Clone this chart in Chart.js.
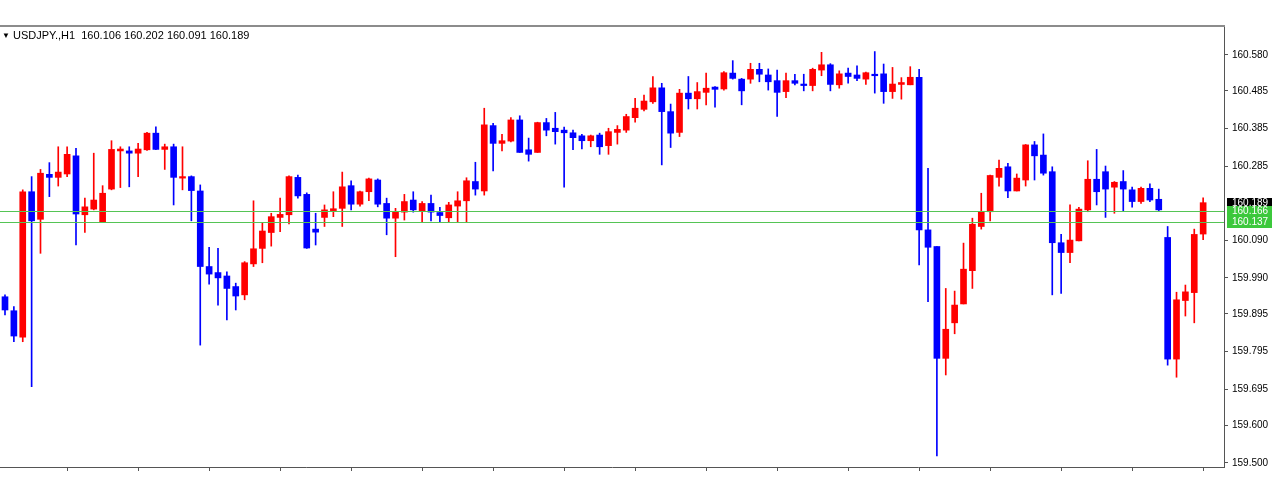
<!DOCTYPE html>
<html>
<head>
<meta charset="utf-8">
<title>USDJPY.,H1</title>
<script src="https://cdn.jsdelivr.net/npm/chart.js@4.4.1/dist/chart.umd.min.js"></script>
<style>
    html, body { margin: 0; padding: 0; background: #fff; }
    #wrap { position: relative; width: 1274px; height: 500px; }
    #hdr { position: absolute; left: 2px; top: 29px; font: 11px "Liberation Sans", Arial, sans-serif; color: #000; white-space: pre; }
    #hdr .tri { font-size: 8px; vertical-align: 1px; }
</style>
</head>
<body>
<div id="wrap">
    <canvas id="chart"></canvas>
    <div id="hdr"><span class="tri">▼</span> USDJPY.,H1  160.106 160.202 160.091 160.189</div>
</div>
<script>
// H1 bars, oldest first
var opens = [159.940, 159.903, 159.833, 160.218, 160.145, 160.264, 160.256, 160.265, 160.313, 160.157,
    160.172, 160.137, 160.225, 160.326, 160.326, 160.320, 160.329, 160.373, 160.330, 160.337,
    160.254, 160.258, 160.220, 160.020, 160.004, 159.995, 159.967, 159.945, 160.027, 160.068,
    160.110, 160.150, 160.157, 160.256, 160.211, 160.119, 160.150, 160.168, 160.174, 160.234,
    160.185, 160.218, 160.249, 160.187, 160.148, 160.164, 160.196, 160.167, 160.187, 160.163,
    160.149, 160.180, 160.194, 160.245, 160.220, 160.393, 160.346, 160.352, 160.408, 160.329,
    160.322, 160.401, 160.386, 160.381, 160.374, 160.366, 160.353, 160.368, 160.340, 160.375,
    160.381, 160.414, 160.436, 160.456, 160.493, 160.430, 160.375, 160.479, 160.464, 160.481,
    160.495, 160.490, 160.532, 160.516, 160.516, 160.542, 160.527, 160.512, 160.483, 160.512,
    160.503, 160.499, 160.540, 160.554, 160.501, 160.532, 160.527, 160.516, 160.529, 160.530,
    160.483, 160.502, 160.501, 160.521, 160.117, 160.073, 159.777, 159.871, 159.921, 160.009,
    160.126, 160.165, 160.256, 160.284, 160.220, 160.249, 160.342, 160.315, 160.271, 160.083,
    160.057, 160.088, 160.170, 160.251, 160.271, 160.230, 160.245, 160.223, 160.192, 160.227,
    160.198, 160.097, 159.775, 159.930, 159.951, 160.106];
var highs = [159.945, 159.914, 160.223, 160.258, 160.277, 160.295, 160.337, 160.337, 160.333, 160.201,
    160.320, 160.234, 160.353, 160.337, 160.337, 160.346, 160.375, 160.390, 160.344, 160.344,
    160.337, 160.260, 160.236, 160.071, 160.068, 160.006, 159.976, 160.033, 160.194, 160.135,
    160.161, 160.201, 160.260, 160.262, 160.215, 160.161, 160.183, 160.218, 160.270, 160.247,
    160.220, 160.254, 160.252, 160.201, 160.174, 160.211, 160.218, 160.192, 160.209, 160.177,
    160.190, 160.218, 160.255, 160.296, 160.439, 160.399, 160.370, 160.414, 160.419, 160.360,
    160.402, 160.412, 160.428, 160.389, 160.381, 160.370, 160.368, 160.373, 160.386, 160.393,
    160.423, 160.465, 160.474, 160.523, 160.505, 160.450, 160.489, 160.523, 160.507, 160.532,
    160.496, 160.536, 160.565, 160.518, 160.558, 160.558, 160.543, 160.540, 160.532, 160.529,
    160.529, 160.545, 160.587, 160.557, 160.538, 160.545, 160.551, 160.535, 160.589, 160.556,
    160.547, 160.520, 160.549, 160.542, 160.280, 160.073, 159.962, 159.955, 160.082, 160.148,
    160.214, 160.262, 160.302, 160.293, 160.265, 160.343, 160.351, 160.371, 160.284, 160.105,
    160.183, 160.177, 160.300, 160.330, 160.286, 160.245, 160.274, 160.230, 160.230, 160.239,
    160.225, 160.126, 159.952, 159.971, 160.119, 160.202];
var lows = [159.892, 159.821, 159.821, 159.702, 160.055, 160.205, 160.233, 160.258, 160.077, 160.110,
    160.170, 160.137, 160.223, 160.229, 160.231, 160.258, 160.327, 160.329, 160.277, 160.183,
    160.223, 160.141, 159.812, 159.973, 159.918, 159.879, 159.905, 159.932, 160.020, 160.030,
    160.074, 160.112, 160.133, 160.201, 160.068, 160.077, 160.126, 160.152, 160.126, 160.170,
    160.180, 160.194, 160.178, 160.104, 160.046, 160.143, 160.164, 160.137, 160.141, 160.139,
    160.137, 160.137, 160.137, 160.209, 160.209, 160.273, 160.326, 160.350, 160.322, 160.299,
    160.322, 160.366, 160.344, 160.230, 160.329, 160.331, 160.337, 160.317, 160.317, 160.344,
    160.375, 160.402, 160.432, 160.452, 160.289, 160.335, 160.364, 160.437, 160.437, 160.448,
    160.442, 160.487, 160.516, 160.448, 160.505, 160.509, 160.487, 160.417, 160.467, 160.501,
    160.485, 160.485, 160.525, 160.485, 160.492, 160.505, 160.512, 160.502, 160.479, 160.452,
    160.465, 160.463, 160.501, 160.024, 159.927, 159.519, 159.733, 159.842, 159.921, 159.962,
    160.119, 160.141, 160.233, 160.202, 160.220, 160.233, 160.249, 160.262, 159.945, 159.949,
    160.030, 160.088, 160.165, 160.183, 160.150, 160.161, 160.167, 160.177, 160.187, 160.192,
    160.168, 159.759, 159.727, 159.889, 159.871, 160.091];
var closes = [159.905, 159.836, 160.218, 160.141, 160.267, 160.256, 160.270, 160.317, 160.159, 160.178,
    160.196, 160.214, 160.330, 160.331, 160.320, 160.331, 160.373, 160.330, 160.337, 160.256,
    160.258, 160.221, 160.020, 160.000, 159.990, 159.962, 159.942, 160.030, 160.067, 160.114,
    160.152, 160.158, 160.258, 160.207, 160.069, 160.111, 160.170, 160.173, 160.231, 160.185,
    160.218, 160.252, 160.185, 160.148, 160.165, 160.192, 160.170, 160.187, 160.164, 160.155,
    160.183, 160.194, 160.247, 160.225, 160.395, 160.346, 160.353, 160.408, 160.322, 160.317,
    160.401, 160.381, 160.377, 160.374, 160.361, 160.353, 160.366, 160.337, 160.377, 160.383,
    160.417, 160.439, 160.458, 160.493, 160.430, 160.373, 160.479, 160.464, 160.483, 160.492,
    160.489, 160.533, 160.518, 160.485, 160.542, 160.529, 160.509, 160.481, 160.512, 160.505,
    160.499, 160.542, 160.554, 160.502, 160.530, 160.523, 160.518, 160.533, 160.525, 160.483,
    160.503, 160.507, 160.521, 160.117, 160.071, 159.777, 159.854, 159.918, 160.013, 160.132,
    160.165, 160.261, 160.280, 160.220, 160.254, 160.342, 160.313, 160.267, 160.083, 160.057,
    160.090, 160.172, 160.251, 160.218, 160.225, 160.243, 160.225, 160.192, 160.227, 160.196,
    160.170, 159.775, 159.932, 159.953, 160.105, 160.189];

var priceTicks = [160.580, 160.485, 160.385, 160.285, 160.090, 159.990, 159.895, 159.795, 159.695, 159.600, 159.500];
var barTicks = [7, 15, 23, 31, 39, 47, 55, 63, 71, 79, 87, 95, 103, 111, 119, 127, 135];
var levels = [160.166, 160.137];
var lastPrice = 160.189;

var BULL = '#ff0000';
var BEAR = '#0000ff';

var candleColors = closes.map(function (c, i) { return c >= opens[i] ? BULL : BEAR; });
var wicks = highs.map(function (h, i) { return { x: i, y: [lows[i], h] }; });
var bodies = opens.map(function (o, i) { return { x: i, y: [o, closes[i]] }; });

// frame, level lines and price labels on the axis
var overlay = {
    id: 'overlay',
    afterDraw: function (chart) {
        var ctx = chart.ctx, area = chart.chartArea, ys = chart.scales.y;
        ctx.save();
        ctx.strokeStyle = '#8c8c8c';
        ctx.lineWidth = 2;
        ctx.beginPath();
        ctx.moveTo(0, area.top - 1);
        ctx.lineTo(area.right + 1, area.top - 1);
        ctx.stroke();

        ctx.lineWidth = 1;
        ctx.strokeStyle = '#55c455';
        levels.forEach(function (v) {
            var y = Math.round(ys.getPixelForValue(v)) + 0.5;
            ctx.beginPath();
            ctx.moveTo(area.left, y);
            ctx.lineTo(area.right, y);
            ctx.stroke();
        });

        ctx.font = '10px "Liberation Sans", Arial, sans-serif';
        ctx.textBaseline = 'middle';
        var tag = function (v, bg) {
            var y = Math.round(ys.getPixelForValue(v));
            ctx.fillStyle = bg;
            ctx.fillRect(area.right + 3, y - 5, 45, 11);
            ctx.fillStyle = '#fff';
            ctx.fillText(v.toFixed(3), area.right + 8, y + 0.5);
        };
        tag(lastPrice, '#000');
        levels.forEach(function (v) { tag(v, '#3cc83c'); });
        ctx.restore();
    }
};

new Chart(document.getElementById('chart'), {
    type: 'bar',
    data: {
        datasets: [
            { data: wicks, backgroundColor: candleColors, barThickness: 1, grouped: false, order: 2 },
            { data: bodies, backgroundColor: candleColors, barThickness: 6, minBarLength: 1, grouped: false, order: 1 }
        ]
    },
    options: {
        responsive: true,
        maintainAspectRatio: false,
        animation: false,
        layout: { padding: { top: 27, left: 0, right: 0, bottom: 0 } },
        plugins: { legend: { display: false }, tooltip: { enabled: false } },
        scales: {
            x: {
                type: 'linear',
                min: -0.563,
                max: 137.35,
                offset: false,
                afterBuildTicks: function (scale) { scale.ticks = barTicks.map(function (v) { return { value: v }; }); },
                afterFit: function (scale) { scale.height = 33; },
                grid: { drawOnChartArea: false, offset: false, tickLength: 4, color: '#555' },
                border: { color: '#555', width: 1 },
                ticks: { display: false }
            },
            y: {
                position: 'right',
                min: 159.4894,
                max: 160.654,
                afterBuildTicks: function (scale) { scale.ticks = priceTicks.map(function (v) { return { value: v }; }); },
                afterFit: function (scale) { scale.width = 50; },
                grid: { drawOnChartArea: false, tickLength: 4, color: '#555' },
                border: { color: '#555', width: 1 },
                ticks: {
                    autoSkip: false,
                    padding: 4,
                    color: '#000',
                    font: { family: '"Liberation Sans", Arial, sans-serif', size: 10 },
                    callback: function (v) { return Number(v).toFixed(3); }
                }
            }
        }
    },
    plugins: [overlay]
});
</script>
</body>
</html>
